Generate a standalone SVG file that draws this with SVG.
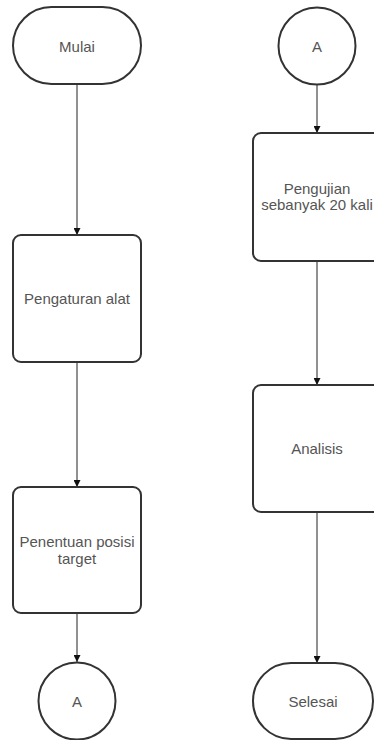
<svg xmlns="http://www.w3.org/2000/svg" width="374" height="740" viewBox="0 0 374 740">
<style>
.shape{fill:#fff;stroke:#333;stroke-width:2}
.lbl{font-family:"Liberation Sans",Arial,sans-serif;font-size:15px;fill:#555;text-anchor:middle;dominant-baseline:central}
.conn{stroke:#222;stroke-width:1;fill:none;marker-end:url(#arr)}
</style>
<defs>
<marker id="arr" viewBox="0 0 10 10" refX="10" refY="5" markerWidth="7" markerHeight="7" markerUnits="userSpaceOnUse" orient="auto">
<path d="M0,0 L10,5 L0,10 Z" fill="#111"/>
</marker>
</defs>
<rect width="374" height="740" fill="#fff"/>
<g id="connectors">
<line class="conn" x1="77" y1="84" x2="77" y2="235"/>
<line class="conn" x1="77" y1="362" x2="77" y2="487"/>
<line class="conn" x1="77" y1="613" x2="77" y2="662"/>
<line class="conn" x1="317" y1="85" x2="317" y2="133"/>
<line class="conn" x1="317" y1="261" x2="317" y2="385"/>
<line class="conn" x1="317" y1="512" x2="317" y2="663"/>
</g>
<g id="mulai">
<rect class="shape" x="13" y="7" width="128" height="77" rx="38.5" ry="38.5"/>
<text class="lbl" x="77" y="46">Mulai</text>
</g>
<g id="pengaturan">
<rect class="shape" x="13" y="235" width="128" height="127" rx="8" ry="8"/>
<text class="lbl" x="77" y="298">Pengaturan alat</text>
</g>
<g id="penentuan">
<rect class="shape" x="13" y="487" width="128" height="126" rx="8" ry="8"/>
<text class="lbl" x="77" y="541">Penentuan posisi</text>
<text class="lbl" x="77" y="558">target</text>
</g>
<g id="connA1">
<circle class="shape" cx="77" cy="701" r="38.5"/>
<text class="lbl" x="77" y="701">A</text>
</g>
<g id="connA2">
<circle class="shape" cx="317" cy="46" r="38.5"/>
<text class="lbl" x="317" y="46">A</text>
</g>
<g id="pengujian">
<rect class="shape" x="253" y="133" width="128" height="128" rx="8" ry="8"/>
<text class="lbl" x="317" y="188">Pengujian</text>
<text class="lbl" x="317" y="204">sebanyak 20 kali</text>
</g>
<g id="analisis">
<rect class="shape" x="253" y="385" width="128" height="127" rx="8" ry="8"/>
<text class="lbl" x="317" y="448">Analisis</text>
</g>
<g id="selesai">
<rect class="shape" x="253" y="663" width="120" height="76" rx="38" ry="38"/>
<text class="lbl" x="313" y="701">Selesai</text>
</g>
</svg>
